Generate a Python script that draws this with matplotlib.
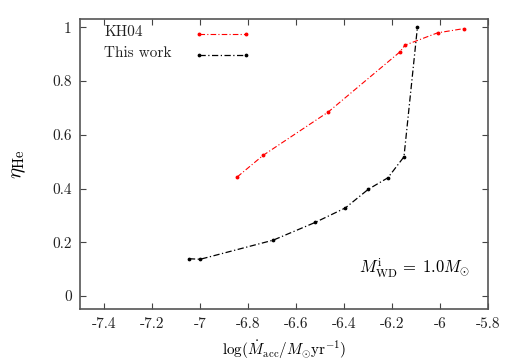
import matplotlib
matplotlib.use("Agg")
import matplotlib.pyplot as plt
from matplotlib.ticker import FuncFormatter, MultipleLocator

kh04_x = [-6.845, -6.736, -6.465, -6.167, -6.146, -6.010, -5.899]
kh04_y = [0.443, 0.524, 0.685, 0.908, 0.933, 0.979, 0.995]

this_x = [-7.046, -6.999, -6.695, -6.520, -6.394, -6.299, -6.217, -6.150, -6.094]
this_y = [0.139, 0.137, 0.208, 0.274, 0.328, 0.397, 0.440, 0.518, 0.999]

plt.rcParams["font.family"] = ["cmr10", "DejaVu Serif"]
plt.rcParams["mathtext.fontset"] = "cm"
plt.rcParams["axes.unicode_minus"] = False

fig = plt.figure(figsize=(5.18, 3.61), dpi=100)
ax = fig.add_axes([0.1544, 0.144, 0.7876, 0.803])

dash = (5, 2, 1, 2)
l1, = ax.plot(kh04_x, kh04_y, color="#ff0000", lw=0.8, dashes=dash,
              marker="o", ms=1.8, mec="#ff0000", mfc="#ff0000")
l2, = ax.plot(this_x, this_y, color="black", lw=0.9, dashes=dash,
              marker="o", ms=1.7, mec="black", mfc="black")

ax.set_xlim(-7.5, -5.8)
ax.set_ylim(-0.048, 1.03)
ax.xaxis.set_major_locator(MultipleLocator(0.2))
ax.yaxis.set_major_locator(MultipleLocator(0.2))
fmt = FuncFormatter(lambda v, p: f"{round(v, 2):g}")
ax.xaxis.set_major_formatter(fmt)
ax.yaxis.set_major_formatter(fmt)

ax.tick_params(direction="in", top=True, right=True, length=4, width=0.8,
               labelsize=11, pad=6, color="#444444", labelcolor="#222222")
for s in ax.spines.values():
    s.set_color("#555555")
    s.set_linewidth(1.2)

ax.set_xlabel(r"$\log(\dot{M}_{\rm acc}/M_{\odot}{\rm yr}^{-1})$", fontsize=11, labelpad=5)
ax.set_ylabel(r"$\eta_{\rm He}$", fontsize=15, labelpad=17)

# gnuplot-style key: text on the left, sample line on the right
leg = ax.legend([l1, l2], ["", ""], loc="upper left", bbox_to_anchor=(0.257, 1.0),
                frameon=False, numpoints=2, handlelength=3.65, fontsize=11,
                labelspacing=0.42, handletextpad=0, borderaxespad=0.25)
ax.text(0.06, 0.955, "KH04", transform=ax.transAxes, fontsize=11, va="center", color="#222222")
ax.text(0.06, 0.882, "This work", transform=ax.transAxes, fontsize=11, va="center", color="#222222")

ax.text(0.956, 0.141, r"$M^{\rm i}_{\rm WD}\,=\;1.0M_{\odot}$", transform=ax.transAxes,
        fontsize=12, ha="right", va="center")

fig.savefig("out.png", dpi=100)
